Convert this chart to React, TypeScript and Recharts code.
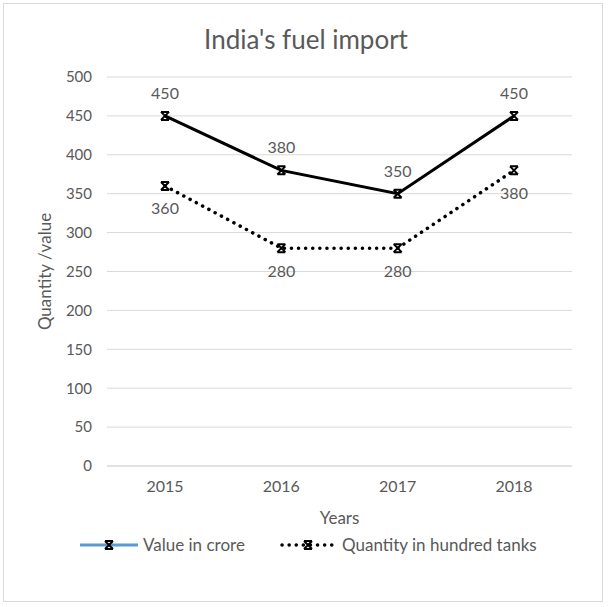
import React from 'react';
import { LineChart, Line, XAxis, YAxis, CartesianGrid, LabelList } from 'recharts';

const years = ['2015', '2016', '2017', '2018'];
const valueInCrore = [450, 380, 350, 450];
const quantityHundredTanks = [360, 280, 280, 380];
const yTicks = [0, 50, 100, 150, 200, 250, 300, 350, 400, 450, 500];

const data = years.map((y, i) => ({ year: y, value: valueInCrore[i], qty: quantityHundredTanks[i] }));

const FONT = 'Lato, "Open Sans", sans-serif';
const GRAY = '#595959';

const XMarker = (props: any) => {
  const { cx, cy } = props;
  if (cx == null || cy == null) return null;
  const s = 4;
  return (
    <g>
      <path
        d={`M${cx - s},${cy - s} L${cx + s},${cy + s} M${cx - s},${cy + s} L${cx + s},${cy - s} M${cx - s},${cy - s} L${cx + s},${cy - s} M${cx - s},${cy + s} L${cx + s},${cy + s}`}
        stroke="#000"
        strokeWidth={2}
        fill="none"
      />
    </g>
  );
};

const LegendMarker = ({ x, y }: { x: number; y: number }) => (
  <path
    d={`M${x - 4},${y - 4} L${x + 4},${y + 4} M${x - 4},${y + 4} L${x + 4},${y - 4} M${x - 4},${y - 4} L${x + 4},${y - 4} M${x - 4},${y + 4} L${x + 4},${y + 4}`}
    stroke="#000"
    strokeWidth={2}
    fill="none"
  />
);

export default function App() {
  return (
    <div style={{ position: 'absolute', left: 0, top: 0, width: 608, height: 607, background: '#fff', fontFamily: FONT }}>
      <div style={{ position: 'absolute', left: 3, top: 3, width: 600, height: 599, border: '1px solid #d9d9d9', boxSizing: 'border-box' }} />
      <div style={{ position: 'absolute', left: 0, top: 23, width: 612, textAlign: 'center', fontSize: 26, lineHeight: '32px', color: GRAY }}>
        India's fuel import
      </div>
      <LineChart
        width={608}
        height={607}
        data={data}
        margin={{ top: 77, right: 36, bottom: 81, left: 36 }}
        style={{ position: 'absolute', left: 0, top: 0 }}
      >
        <CartesianGrid vertical={false} stroke="#d9d9d9" />
        <XAxis
          dataKey="year"
          tickLine={false}
          axisLine={{ stroke: '#d9d9d9' }}
          tick={{ fill: GRAY, fontSize: 16, fontFamily: FONT }}
          tickMargin={9}
          height={60}
          padding={{ left: 58, right: 58 }}
          label={{ value: 'Years', position: 'insideBottom', offset: 2, fill: GRAY, fontSize: 17, fontFamily: FONT }}
        />
        <YAxis
          domain={[0, 500]}
          ticks={yTicks}
          tickLine={false}
          axisLine={false}
          width={71}
          tick={{ fill: GRAY, fontSize: 15, fontFamily: FONT }}
          tickMargin={9}
          label={{ value: 'Quantity /value', angle: -90, position: 'insideLeft', offset: 9, fill: GRAY, fontSize: 17, fontFamily: FONT, style: { textAnchor: 'middle' } }}
        />
        <Line
          dataKey="value"
          stroke="#000"
          strokeWidth={3}
          dot={<XMarker />}
          activeDot={false}
          isAnimationActive={false}
        >
          <LabelList dataKey="value" position="top" offset={17} fill={GRAY} fontSize={16} fontFamily={FONT} />
        </Line>
        <Line
          dataKey="qty"
          stroke="#000"
          strokeWidth={3.5}
          strokeDasharray="0.1 7"
          strokeLinecap="round"
          dot={<XMarker />}
          activeDot={false}
          isAnimationActive={false}
        >
          <LabelList dataKey="qty" position="bottom" offset={17} fill={GRAY} fontSize={16} fontFamily={FONT} />
        </Line>
      </LineChart>
      <svg width={608} height={30} style={{ position: 'absolute', left: 0, top: 530 }}>
        <line x1={80} y1={15} x2={138} y2={15} stroke="#5B9BD5" strokeWidth={3} />
        <LegendMarker x={109} y={15} />
        <text x={143} y={21} fill={GRAY} fontSize={17} fontFamily={FONT}>Value in crore</text>
        <line x1={282} y1={15} x2={337} y2={15} stroke="#000" strokeWidth={3.5} strokeDasharray="0.1 7" strokeLinecap="round" />
        <LegendMarker x={308} y={15} />
        <text x={342} y={21} fill={GRAY} fontSize={17} fontFamily={FONT}>Quantity in hundred tanks</text>
      </svg>
    </div>
  );
}
